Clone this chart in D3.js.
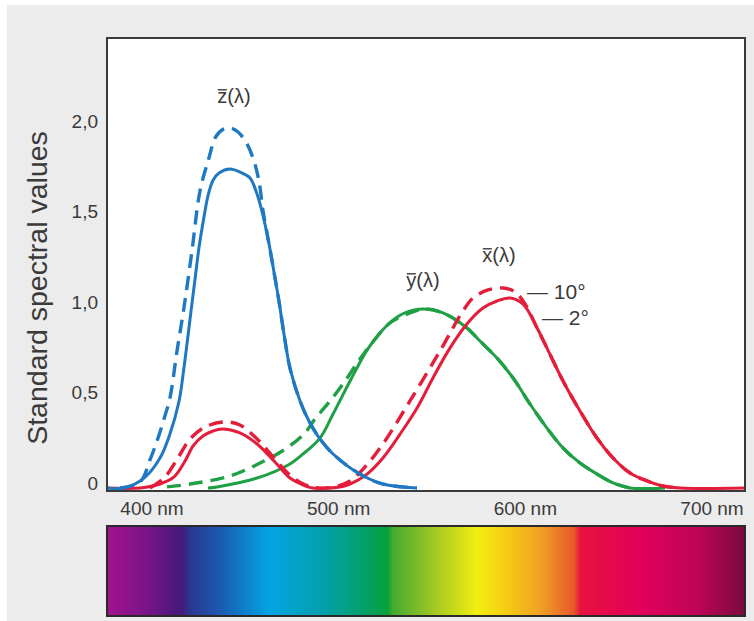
<!DOCTYPE html>
<html>
<head>
<meta charset="utf-8">
<script src="https://cdn.jsdelivr.net/npm/d3@7/dist/d3.min.js"></script>
<style>
  html, body { margin: 0; padding: 0; background: #ffffff; }
  svg { display: block; }
  text { font-family: "Liberation Sans", Arial, sans-serif; fill: #3a3a3a; }
</style>
</head>
<body>
<script>
// Wavelength axis ticks (nm) and value axis ticks
const wavelengthTicks = [400, 500, 600, 700];
const valueTicks = [0, 0.5, 1.0, 1.5, 2.0];
const valueTickLabels = ["0", "0,5", "1,0", "1,5", "2,0"];

// Colour matching functions as [wavelength nm, value]
// 2° observer (solid lines)
const zBar2 = [[376,0],[385,0],[395.7,0.055],[404.3,0.166],[409.6,0.298],[414.5,0.481],[417.1,0.663],[419.4,0.851],[421.3,1.01],[423,1.15],[425.2,1.33],[427.9,1.5],[429.9,1.61],[432.7,1.7],[435.9,1.74],[441.8,1.762],[448.2,1.74],[452.5,1.713],[455.7,1.641],[458.9,1.53],[462.7,1.348],[465.9,1.16],[468,1.033],[470.7,0.851],[473.9,0.663],[479.3,0.481],[484.1,0.37],[488.9,0.287],[497,0.188],[511.4,0.077],[523.7,0.022],[541.9,0]];
const xBar2 = [[376,0],[393.6,0],[404.3,0.022],[411.8,0.061],[417.7,0.149],[422,0.232],[427.3,0.287],[432.7,0.315],[437.5,0.326],[447.1,0.304],[456.3,0.243],[465.4,0.149],[473.9,0.055],[479.8,0.022],[486.2,0],[493.8,0],[500.7,0.006],[506.1,0.022],[515.2,0.077],[523.7,0.166],[532.9,0.298],[542,0.442],[550.5,0.608],[559.6,0.773],[568.7,0.906],[577.3,0.994],[584.8,1.033],[591.8,1.05],[598.7,1.017],[606.3,0.884],[611.6,0.773],[620.2,0.591],[629.3,0.425],[638.4,0.276],[647,0.166],[656.1,0.083],[665.2,0.039],[673.7,0.011],[682.9,0],[718,0]];
const yBar2 = [[430,0],[434.8,0.006],[456.3,0.055],[473.9,0.133],[480.9,0.188],[490,0.276],[497,0.409],[506.1,0.591],[515.2,0.762],[522.1,0.856],[528.6,0.923],[535.5,0.967],[545.2,0.989],[555.9,0.967],[568.7,0.884],[575.7,0.812],[584.8,0.718],[593.4,0.608],[602.5,0.464],[611.6,0.331],[620.2,0.221],[629.3,0.138],[638.4,0.077],[647,0.028],[656.1,0],[674.8,0]];

// 10° observer (dashed lines)
const zBar10 = [[382.9,0],[393.6,0.033],[398.9,0.155],[402.7,0.26],[406.4,0.381],[409.6,0.497],[413.4,0.757],[417.1,0.994],[421.4,1.309],[425.7,1.641],[430.5,1.823],[433.8,1.934],[437.5,1.978],[441.8,1.989],[446.1,1.967],[450.9,1.901],[454.6,1.807],[457.3,1.696],[459.5,1.53],[462.7,1.348],[465.9,1.16],[468,1.033],[470.7,0.851],[473.9,0.663],[479.3,0.481],[484.1,0.37],[488.9,0.287],[497,0.188],[511.4,0.077],[523.7,0.022],[541.9,0]];
const xBar10 = [[398.9,0],[407,0.061],[414.5,0.177],[420.4,0.271],[428.4,0.337],[438.6,0.365],[447.1,0.348],[456.3,0.271],[465.4,0.166],[473.9,0.072],[482,0.017],[489,0],[498.1,0.006],[506.1,0.039],[514.1,0.116],[523.7,0.243],[538.2,0.481],[554.3,0.757],[566.6,0.978],[572,1.05],[580,1.094],[588,1.105],[594.5,1.083],[599.8,1.017],[606.3,0.884],[611.6,0.773],[620.2,0.591],[629.3,0.425],[638.4,0.276],[647,0.166],[656.1,0.083],[665.2,0.039],[673.7,0.011],[682.9,0]];
const yBar10 = [[408,0.006],[420.4,0.022],[441.8,0.066],[460,0.149],[472.3,0.221],[481.9,0.304],[487.3,0.381],[495.4,0.481],[503.4,0.591],[511.4,0.713],[517.9,0.801],[527.5,0.912],[538.2,0.967],[546.2,0.989],[555.9,0.967],[568.7,0.884],[575.7,0.812],[584.8,0.718],[593.4,0.608],[602.5,0.464],[611.6,0.331],[620.2,0.221],[629.3,0.138],[638.4,0.077],[647,0.028],[656.1,0]];

// Visible spectrum colour stops (offset along the band, colour)
const spectrumStops = [
  [0.00, "#a3128e"], [0.06, "#7c1489"], [0.118, "#421a7a"], [0.128, "#2c3590"],
  [0.18, "#1a5db2"], [0.255, "#02a5e5"], [0.335, "#04a0ae"], [0.41, "#04a062"],
  [0.44, "#05a238"], [0.448, "#45aa30"], [0.515, "#a4c922"], [0.58, "#f2ee12"],
  [0.62, "#f6d012"], [0.68, "#f0a024"], [0.732, "#e8582a"], [0.742, "#e8123e"],
  [0.84, "#e1005b"], [0.925, "#bf0457"], [1.00, "#7a0b3e"]
];

const W = 754, H = 621;
const box = { left: 107, right: 745, top: 38, bottom: 491 };
const band = { top: 526, bottom: 616 };

const colors = { z: "#1f78c2", y: "#1fa044", x: "#e31d3a" };

const svg = d3.select("body").append("svg").attr("width", W).attr("height", H);

// Page background
svg.append("rect").attr("x", 7).attr("y", 5).attr("width", W - 7).attr("height", H - 5).attr("fill", "#ececec");

// Scales
const x = d3.scaleLinear().domain([400, 700]).range([152, 712]);
const y = d3.scaleLinear().domain([0, 2]).range([488, 126]);

// Plot area
svg.append("rect")
  .attr("x", box.left).attr("y", box.top)
  .attr("width", box.right - box.left).attr("height", box.bottom - box.top)
  .attr("fill", "#ffffff");

svg.append("clipPath").attr("id", "plotClip")
  .append("rect")
  .attr("x", box.left).attr("y", box.top)
  .attr("width", box.right - box.left).attr("height", box.bottom - box.top);

const line = d3.line()
  .x(d => x(d[0]))
  .y(d => y(d[1]))
  .curve(d3.curveCatmullRom.alpha(0.5));

const curves = svg.append("g").attr("clip-path", "url(#plotClip)");

const series = [
  { data: yBar10, color: colors.y, dashed: true },
  { data: yBar2, color: colors.y, dashed: false },
  { data: xBar10, color: colors.x, dashed: true },
  { data: xBar2, color: colors.x, dashed: false },
  { data: zBar10, color: colors.z, dashed: true },
  { data: zBar2, color: colors.z, dashed: false }
];

curves.selectAll("path.cmf")
  .data(series)
  .join("path")
  .attr("class", "cmf")
  .attr("d", d => line(d.data))
  .attr("fill", "none")
  .attr("stroke", d => d.color)
  .attr("stroke-width", d => d.dashed ? 3.4 : 3)
  .attr("stroke-dasharray", d => d.dashed ? "14,8" : null)
  .attr("stroke-linecap", "butt")
  .attr("stroke-linejoin", "round");

// Plot frame
svg.append("rect")
  .attr("x", box.left).attr("y", box.top)
  .attr("width", box.right - box.left).attr("height", box.bottom - box.top)
  .attr("fill", "none").attr("stroke", "#3a3a3a").attr("stroke-width", 2);

// Value axis labels
svg.append("g").selectAll("text")
  .data(valueTicks)
  .join("text")
  .attr("x", 98)
  .attr("y", d => y(d) - 5)
  .attr("dy", "0.35em")
  .attr("text-anchor", "end")
  .attr("font-size", 19)
  .text((d, i) => valueTickLabels[i]);

// Wavelength axis labels
svg.append("g").selectAll("text")
  .data(wavelengthTicks)
  .join("text")
  .attr("x", d => x(d))
  .attr("y", 515)
  .attr("text-anchor", "middle")
  .attr("font-size", 19)
  .text(d => d + " nm");

// Value axis title
svg.append("text")
  .attr("transform", "translate(47,288) rotate(-90)")
  .attr("text-anchor", "middle")
  .attr("font-size", 28.5)
  .text("Standard spectral values");

// Curve labels with an overbar on the first letter
function barLabel(text, cx, baseline, size) {
  const t = svg.append("text")
    .attr("x", cx).attr("y", baseline)
    .attr("text-anchor", "middle")
    .attr("font-size", size)
    .text(text);
  const node = t.node();
  const total = node.getComputedTextLength();
  const first = node.getSubStringLength(0, 1);
  const x0 = cx - total / 2;
  svg.append("line")
    .attr("x1", x0 + 0.5).attr("x2", x0 + first - 0.5)
    .attr("y1", baseline - size * 0.66).attr("y2", baseline - size * 0.66)
    .attr("stroke", "#3a3a3a").attr("stroke-width", 1.4);
}
barLabel("z(λ)", 234, 103, 20);
barLabel("y(λ)", 423, 287, 20);
barLabel("x(λ)", 499, 262, 20);

// Observer legend
svg.append("text").attr("x", 527).attr("y", 299).attr("font-size", 21).text("— 10°");
svg.append("text").attr("x", 542).attr("y", 325).attr("font-size", 21).text("— 2°");

// Spectrum band
const grad = svg.append("defs").append("linearGradient")
  .attr("id", "spectrum").attr("x1", "0%").attr("x2", "100%").attr("y1", "0%").attr("y2", "0%");
grad.selectAll("stop")
  .data(spectrumStops)
  .join("stop")
  .attr("offset", d => d[0])
  .attr("stop-color", d => d[1]);

svg.append("rect")
  .attr("x", box.left).attr("y", band.top)
  .attr("width", box.right - box.left).attr("height", band.bottom - band.top)
  .attr("fill", "url(#spectrum)")
  .attr("stroke", "#2a2a2a").attr("stroke-width", 2);
</script>
</body>
</html>
